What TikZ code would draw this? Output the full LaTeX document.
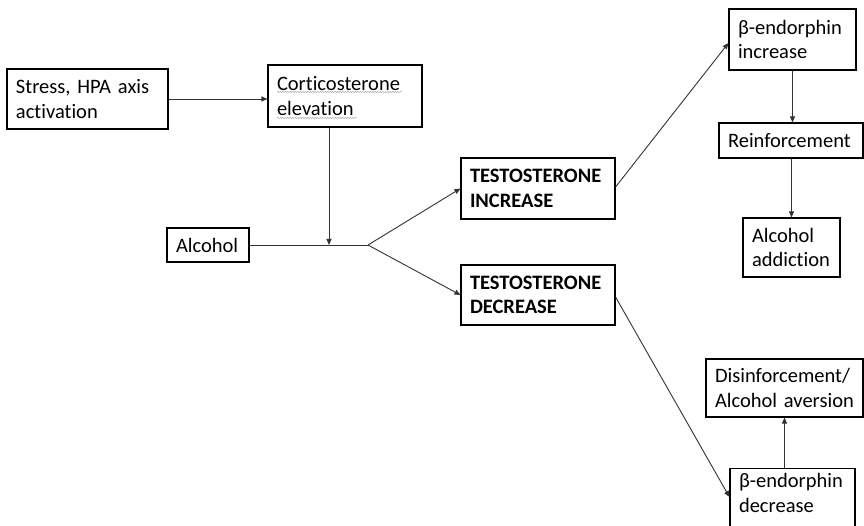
\documentclass[tikz,border=0pt]{standalone}
\usepackage{fontspec}
\setmainfont[Ligatures={NoCommon}]{Carlito}
\usetikzlibrary{arrows.meta,decorations.pathmorphing}
\begin{document}
\begin{tikzpicture}[x=1pt,y=-1pt,
  box/.style={draw=black, line width=1.1pt, inner xsep=9pt, inner ysep=0pt, align=left,
    font=\fontsize{20.5}{24.5}\selectfont, text=black},
  arr/.style={draw=black!80, line width=0.9pt, -{Triangle[length=6pt,width=5pt]}},
  ln/.style={draw=black!80, line width=0.9pt},
  squig/.style={draw=black!35, line width=0.5pt, decorate,
    decoration={snake, amplitude=0.6pt, segment length=2.5pt}}]
\useasboundingbox (0,0) rectangle (864,526);
\clip (0,0) rectangle (864,526);
\fill[white] (0,0) rectangle (864,526);

\node[box, text width=143pt, minimum height=60pt] (stress) at (87.5,99) {\mbox{Stress, HPA axis}\\activation};
\node[box, text width=136pt, minimum height=62pt] (cort) at (345,96) {Corticosterone\\elevation};
\node[box, text width=64pt, minimum height=34pt] (alcohol) at (208,245) {Alcohol};
\node[box, text width=136pt, minimum height=61pt] (incr) at (538,188.5) {\textbf{TESTOSTERONE}\\\textbf{INCREASE}};
\node[box, text width=136pt, minimum height=60pt] (decr) at (538,295) {\textbf{TESTOSTERONE}\\\textbf{DECREASE}};
\node[box, text width=109pt, minimum height=61pt] (bendinc) at (792.5,39.5) {β-endorphin\\increase};
\node[box, text width=126pt, minimum height=35pt] (reinf) at (791,140.5) {\mbox{Reinforcement}};
\node[box, text width=79pt, minimum height=59pt] (addict) at (791.5,247.5) {Alcohol\\addiction};
\node[box, text width=139pt, minimum height=58pt] (disinf) at (784.5,388) {\mbox{Disinforcement/}\\\mbox{Alcohol aversion}};
\node[box, text width=107pt, inner ysep=5pt, text depth=45pt, anchor=north] (benddec) at (792.5,468) {β-endorphin\\decrease};

\coordinate (join) at (329,245);
\coordinate (fork) at (368,245);

\draw[arr] (stress.east) -- (stress.east -| cort.west);
\draw[arr] (join |- cort.south) -- (join);
\draw[ln] (alcohol.east) -- (fork);
\draw[arr] (fork) -- (incr.west);
\draw[arr] (fork) -- (decr.west);
\draw[arr] ([yshift=1.5pt]incr.east) -- ([yshift=-3.5pt]bendinc.west);
\draw[arr] (bendinc.south) -- (bendinc.south |- reinf.north);
\draw[arr] (addict.north |- reinf.south) -- (addict.north);
\draw[arr] ([yshift=-2pt]decr.east) -- ([yshift=-29pt]benddec.north west);
\draw[arr] (disinf.south |- benddec.north) -- (disinf.south);

\draw[squig] (277,92) -- (402,92);
\draw[squig] (277,118) -- (357,118);
\end{tikzpicture}
\end{document}
